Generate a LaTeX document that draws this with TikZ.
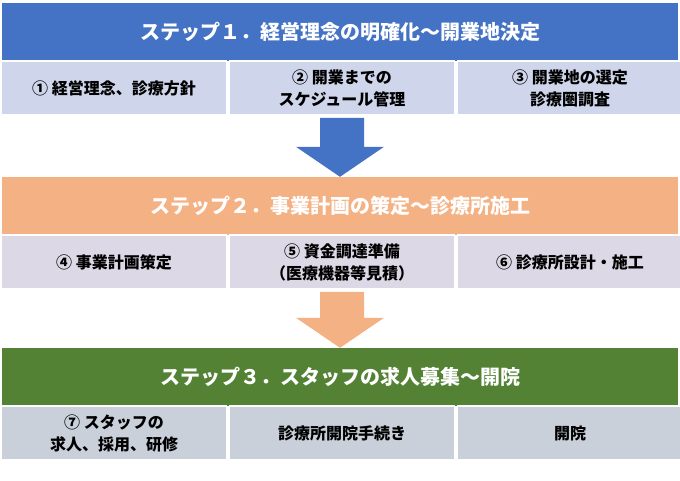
\documentclass[tikz,border=0pt]{standalone}
\usepackage{fontspec}
\setmainfont{Noto Sans CJK JP}
\usetikzlibrary{positioning,calc}
\definecolor{hdblue}{HTML}{4472C4}
\definecolor{cellblue}{HTML}{CFD5EA}
\definecolor{hdorange}{HTML}{F4B183}
\definecolor{cellpurple}{HTML}{DCD8E6}
\definecolor{hdgreen}{HTML}{548235}
\definecolor{cellgray}{HTML}{C9D0DA}
\tikzset{
  header/.style={minimum width=676pt, minimum height=58pt, inner sep=0pt, text=white, font=\bfseries\fontsize{20}{24}\selectfont},
  cell/.style={minimum width=225pt, minimum height=54pt, inner sep=0pt, align=center, font=\bfseries\fontsize{16}{22}\selectfont, draw=white, line width=1.5pt}
}
\newcommand\steparrow[3]{% fill, top, tip
  \fill[#1] ($(#2)+(-22,2)$) -- ($(#2)+(22,2)$) |- ($(#3)+(44,-30)$) -- (#3) -- ($(#3)+(-44,-30)$) -| cycle;}
\begin{document}
\begin{tikzpicture}[x=1pt,y=-1pt]
\useasboundingbox (0,0) rectangle (680,480);
% step 1
\node[header, fill=hdblue] (s1) at (340,32) {ステップ１．経営理念の明確化～開業地決定};
\node[cell, fill=cellblue] (c1) at (114,88) {① 経営理念、診療方針};
\node[cell, fill=cellblue, right=1.5pt of c1] (c2) {② 開業までの\\スケジュール管理};
\node[cell, fill=cellblue, right=1.5pt of c2] (c3) {③ 開業地の選定\\診療圏調査};
% step 2
\node[header, fill=hdorange] (s2) at (340,206) {ステップ２．事業計画の策定～診療所施工};
\node[cell, fill=cellpurple] (c4) at (114,262) {④ 事業計画策定};
\node[cell, fill=cellpurple, right=1.5pt of c4] (c5) {⑤ 資金調達準備\\（医療機器等見積）};
\node[cell, fill=cellpurple, right=1.5pt of c5] (c6) {⑥ 診療所設計・施工};
% step 3
\node[header, fill=hdgreen] (s3) at (340,377) {ステップ３．スタッフの求人募集～開院};
\node[cell, fill=cellgray] (c7) at (114,433) {⑦ スタッフの\\求人、採用、研修};
\node[cell, fill=cellgray, right=1.5pt of c7] (c8) {診療所開院手続き};
\node[cell, fill=cellgray, right=1.5pt of c8] (c9) {開院};
% arrows
\steparrow{hdblue}{c2.south}{s2.north}
\steparrow{hdorange}{c5.south}{s3.north}
\end{tikzpicture}
\end{document}
